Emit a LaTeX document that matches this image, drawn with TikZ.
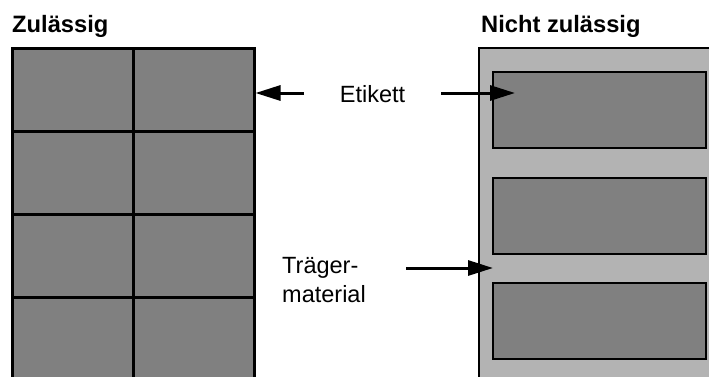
\documentclass[tikz,border=0pt]{standalone}
\usepackage{fontspec}
\setmainfont{Liberation Sans}
\usetikzlibrary{arrows.meta}
\definecolor{cellgray}{RGB}{128,128,128}
\definecolor{backgray}{RGB}{179,179,179}
\begin{document}
\begin{tikzpicture}[x=1pt,y=-1pt,
  cell/.style={draw=black, line width=3pt, fill=cellgray, minimum width=121pt, minimum height=83pt, inner sep=0pt, outer sep=0pt, anchor=north west},
  carrier/.style={draw=black, line width=2.5pt, fill=backgray, minimum width=245pt, minimum height=360pt, inner sep=0pt, outer sep=0pt, anchor=north west},
  label/.style={draw=black, line width=2pt, fill=cellgray, minimum width=213pt, minimum height=76pt, inner sep=0pt, outer sep=0pt, anchor=north west},
  title/.style={font=\fontsize{23.7}{28}\selectfont\bfseries, inner sep=0pt, anchor=base west},
  txt/.style={font=\fontsize{23.5}{29}\selectfont, inner sep=0pt},
  pointer/.style={line width=3pt, -{Triangle[length=25pt, width=15pt]}}
]
\useasboundingbox (0,0) rectangle (709,376);
\clip (0,0) rectangle (709,376);

% titles
\node[title] (t1) at (12,32) {Zulässig};
\node[title] (t2) at (481,32) {Nicht zulässig};

% left panel: grid of labels
\node[cell] (c11) at (12,48) {};
\node[cell] (c12) at (133,48) {};
\node[cell] (c21) at (12,131) {};
\node[cell] (c22) at (133,131) {};
\node[cell] (c31) at (12,214) {};
\node[cell] (c32) at (133,214) {};
\node[cell] (c41) at (12,297) {};
\node[cell] (c42) at (133,297) {};

% right panel: carrier with labels
\node[carrier] (back) at (479,48) {};
\node[label] (r1) at (493,72) {};
\node[label] (r2) at (493,177.5) {};
\node[label] (r3) at (493,282.5) {};

% texts
\node[txt, anchor=base] (etikett) at (372.5,102) {Etikett};
\node[txt, anchor=base west, align=left] (traeger) at (282,302) {Träger-\\material};

% pointer ends
\coordinate (e1) at (304,93);
\coordinate (e1t) at (255.5,93);
\coordinate (e2) at (441,93);
\coordinate (e2t) at (515,93);
\coordinate (m1) at (406,268);
\coordinate (m1t) at (493,268);

\draw[pointer] (e1) -- (e1t);
\draw[pointer] (e2) -- (e2t);
\draw[pointer] (m1) -- (m1t);
\end{tikzpicture}
\end{document}
